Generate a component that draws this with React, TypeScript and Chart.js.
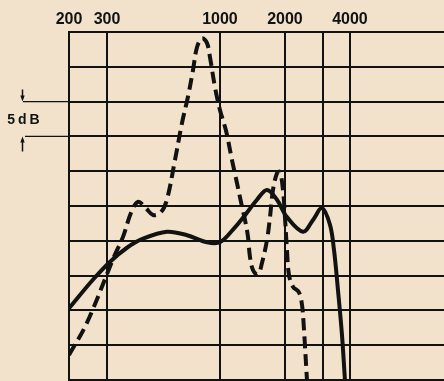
import React, { useEffect, useRef } from 'react';
import { Chart, registerables } from 'chart.js';

Chart.register(...registerables);

// Frequency axis (Hz), logarithmic
const freqTicks = [200, 300, 1000, 2000, 3000, 4000];
const freqLabels = ['200', '300', '1000', '2000', '', '4000'];

// Level axis (dB, relative), 5 dB per division
const dbMin = 0;
const dbMax = 50;
const dbStep = 5;

// Solid curve
const solidFreq = [200, 258, 310, 371, 440, 568, 704, 871, 1000, 1149, 1278, 1484, 1651, 1837, 2043, 2424, 2697, 2968, 3232, 3373, 3520, 3673, 3792, 3840];
const solidDb = [10.3, 14.4, 17.0, 19.0, 20.3, 21.3, 20.8, 19.8, 19.8, 21.6, 23.3, 25.9, 27.3, 25.9, 23.4, 21.3, 23.0, 24.7, 22.3, 18.7, 12.9, 6.5, 0, -2];

// Dashed curve
const dashedFreq = [200, 242, 323, 356, 387, 417, 454, 490, 533, 568, 619, 667, 711, 750, 783, 826, 871, 899, 948, 1000, 1067, 1137, 1199, 1265, 1306, 1348, 1377, 1422, 1500, 1565, 1651, 1705, 1760, 1837, 1896, 1958, 2000, 2043, 2087, 2178, 2322, 2398, 2450, 2529, 2560];
const dashedDb = [3.6, 8.2, 17.7, 20.6, 24.0, 25.6, 24.7, 23.7, 24.1, 25.9, 31.6, 36.9, 40.7, 44.5, 47.8, 49.1, 48.4, 46.4, 42.1, 38.8, 35.8, 31.6, 28.3, 24.9, 23.0, 20.6, 17.7, 15.8, 15.1, 16.8, 20.1, 23.4, 27.3, 29.7, 29.9, 27.3, 23.4, 18.7, 15.1, 13.4, 12.6, 10.8, 7.2, 0, -2];

const INK = '#121212';
const PAPER = '#f2e2cb';

const decorPlugin = {
  id: 'decor',
  beforeDraw(chart: any) {
    const { ctx, width, height } = chart;
    ctx.save();
    ctx.fillStyle = PAPER;
    ctx.fillRect(0, 0, width, height);
    ctx.restore();
  },
  afterDraw(chart: any) {
    const { ctx } = chart;
    const y = chart.scales.y;
    const left = chart.chartArea.left;
    const yTop = y.getPixelForValue(40);
    const yBot = y.getPixelForValue(35);
    ctx.save();
    ctx.strokeStyle = INK;
    ctx.fillStyle = INK;
    ctx.lineWidth = 1.2;
    ctx.beginPath();
    ctx.moveTo(23, yTop);
    ctx.lineTo(left, yTop);
    ctx.moveTo(25, yBot);
    ctx.lineTo(left, yBot);
    ctx.stroke();
    ctx.lineWidth = 1.5;
    ctx.beginPath();
    ctx.moveTo(22.5, yTop - 12);
    ctx.lineTo(22.5, yTop - 3);
    ctx.moveTo(22.5, yBot + 3);
    ctx.lineTo(22.5, yBot + 15);
    ctx.stroke();
    ctx.beginPath();
    ctx.moveTo(22.5, yTop);
    ctx.lineTo(20.3, yTop - 6);
    ctx.lineTo(24.7, yTop - 6);
    ctx.closePath();
    ctx.moveTo(22.5, yBot);
    ctx.lineTo(20.3, yBot + 6);
    ctx.lineTo(24.7, yBot + 6);
    ctx.closePath();
    ctx.fill();
    ctx.font = 'bold 14px "Liberation Sans", Arial, sans-serif';
    (ctx as any).letterSpacing = '3px';
    ctx.textAlign = 'center';
    ctx.textBaseline = 'middle';
    ctx.fillText('5dB', 25, (yTop + yBot) / 2 + 1);
    ctx.restore();
  },
};

export default function App() {
  const ref = useRef<HTMLCanvasElement>(null);

  useEffect(() => {
    const solid = solidFreq.map((f, i) => ({ x: f, y: solidDb[i] }));
    const dashed = dashedFreq.map((f, i) => ({ x: f, y: dashedDb[i] }));
    const chart = new Chart(ref.current as HTMLCanvasElement, {
      type: 'line',
      data: {
        datasets: [
          {
            label: 'solid',
            data: solid,
            borderColor: INK,
            borderWidth: 4,
            pointRadius: 0,
            tension: 0.35,
            borderCapStyle: 'round',
            borderJoinStyle: 'round',
            fill: false,
          },
          {
            label: 'dashed',
            data: dashed,
            borderColor: INK,
            borderWidth: 4,
            borderDash: [12, 6],
            pointRadius: 0,
            tension: 0.35,
            borderCapStyle: 'butt',
            borderJoinStyle: 'round',
            fill: false,
          },
        ],
      },
      options: {
        responsive: false,
        devicePixelRatio: 1,
        animation: false,
        layout: { padding: { left: 0, right: 0, top: 0, bottom: 1 } },
        plugins: {
          legend: { display: false },
          tooltip: { enabled: false },
        },
        scales: {
          x: {
            type: 'logarithmic',
            position: 'top',
            min: 200,
            max: 10900,
            afterBuildTicks: (scale: any) => {
              scale.ticks = freqTicks.map((v) => ({ value: v }));
            },
            afterFit: (scale: any) => {
              scale.height = 32;
            },
            ticks: {
              autoSkip: false,
              maxRotation: 0,
              padding: 3,
              color: INK,
              font: { family: '"Liberation Sans", Arial, sans-serif', size: 16, weight: 'bold' },
              callback: (value: any) => {
                const i = freqTicks.indexOf(Number(value));
                return i >= 0 ? freqLabels[i] : '';
              },
            },
            grid: { color: INK, lineWidth: 2, drawTicks: false },
            border: { display: true, color: INK, width: 2 },
          },
          y: {
            type: 'linear',
            min: dbMin,
            max: dbMax,
            afterFit: (scale: any) => {
              scale.width = 69;
            },
            ticks: { stepSize: dbStep, display: false },
            grid: { color: INK, lineWidth: 2, drawTicks: false },
            border: { display: true, color: INK, width: 2 },
          },
        },
      },
      plugins: [decorPlugin],
    } as any);
    return () => chart.destroy();
  }, []);

  return (
    <div style={{ position: 'fixed', left: 0, top: 0, width: 444, height: 381, background: PAPER }}>
      <canvas ref={ref} width={444} height={381} style={{ display: 'block', width: 444, height: 381 }} />
    </div>
  );
}
